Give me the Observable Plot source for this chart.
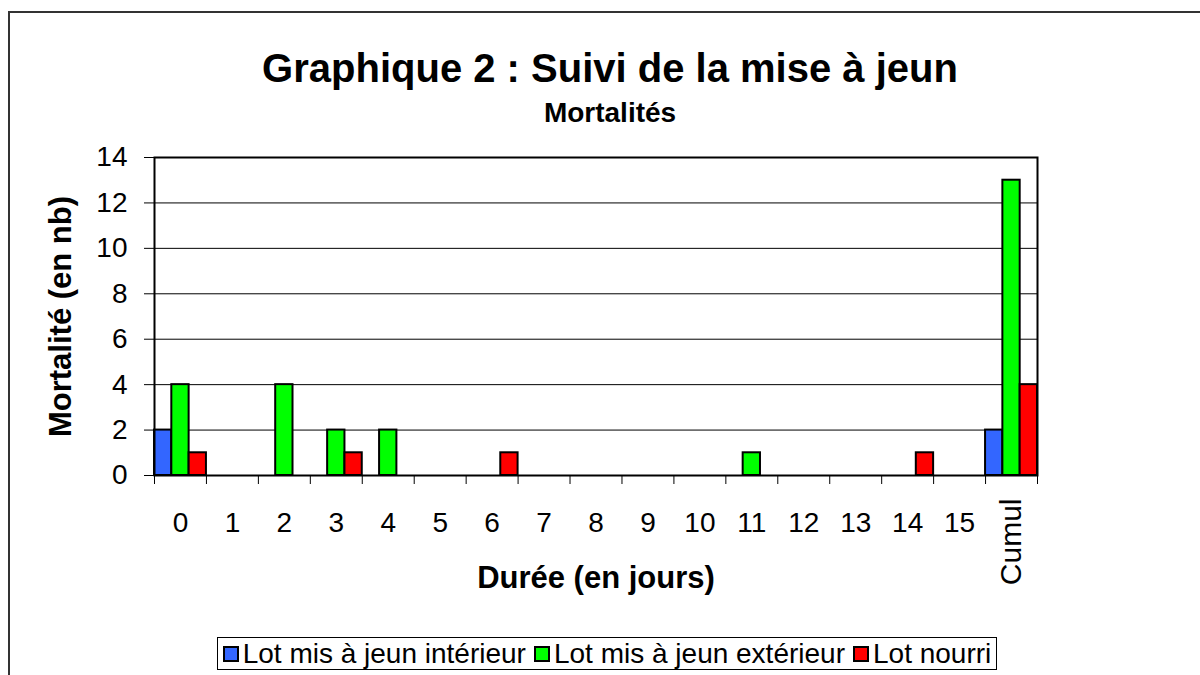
<!DOCTYPE html>
<html><head><meta charset="utf-8">
<script src="https://cdn.jsdelivr.net/npm/d3@7"></script>
<script src="https://cdn.jsdelivr.net/npm/@observablehq/plot@0.6"></script>
<style>
body{margin:0;background:#fff;font-family:"Liberation Sans",Arial,sans-serif;color:#000}
#wrap{position:relative;width:1200px;height:675px;overflow:hidden;background:#fff}
#border{position:absolute;left:8px;top:11px;width:1200px;height:700px;border-top:2px solid #333;border-left:2px solid #333;box-sizing:border-box}
#title{position:absolute;left:10px;width:1200px;top:48px;text-align:center;font-weight:bold;font-size:40px;line-height:40px;white-space:nowrap}
#subtitle{position:absolute;left:10px;width:1200px;top:99px;text-align:center;font-weight:bold;font-size:28px;line-height:28px;white-space:nowrap}
#chart{position:absolute;left:0;top:0}
#legend{position:absolute;left:217px;top:637px;width:780px;height:33px;box-sizing:border-box;border:1px solid #000;display:flex;align-items:center;justify-content:center;gap:8px;font-size:28px;line-height:31px;white-space:nowrap;background:#fff}
.item{display:flex;align-items:center;gap:4px}
.sw{width:16px;height:16px;border:2px solid #000;box-sizing:border-box}
</style>
</head><body>
<div id="wrap">
  <div id="border"></div>
  <div id="chart"></div>
  <div id="title"></div>
  <div id="subtitle"></div>
  <div id="legend"></div>
</div>
<script>
const title = "Graphique 2 : Suivi de la mise à jeun";
const subtitle = "Mortalités";
const xLabel = "Durée (en jours)";
const yLabel = "Mortalité (en nb)";
const days = ["0","1","2","3","4","5","6","7","8","9","10","11","12","13","14","15","Cumul"];
const series = ["Lot mis à jeun intérieur","Lot mis à jeun extérieur","Lot nourri"];
const colors = ["#3366FF","#00FF00","#FF0000"];
const interieur = [2,0,0,0,0,0,0,0,0,0,0,0,0,0,0,0,2];
const exterieur = [4,0,4,2,2,0,0,0,0,0,0,1,0,0,0,0,13];
const nourri    = [1,0,0,1,0,0,1,0,0,0,0,0,0,0,1,0,4];
const yTicks = [0,2,4,6,8,10,12,14];

document.getElementById("title").textContent = title;
document.getElementById("subtitle").textContent = subtitle;

const rows = [];
[interieur, exterieur, nourri].forEach((vals, k) => vals.forEach((v, i) => {
  if (v > 0) rows.push({day: i, k, series: series[k], value: v});
}));

const numericDays = days.filter(d => d !== "Cumul");

const chart = Plot.plot({
  width: 1200, height: 675,
  marginLeft: 154, marginRight: 163, marginTop: 157, marginBottom: 200,
  style: {fontFamily: "'Liberation Sans', Arial, sans-serif", fontSize: "28px", color: "#000", background: "transparent", overflow: "visible"},
  x: {type: "linear", domain: [0, days.length], label: null},
  y: {domain: [0, 14], label: null},
  color: {domain: series, range: colors},
  marks: [
    Plot.gridY({ticks: yTicks, stroke: "#000", strokeOpacity: 1, strokeWidth: 1}),
    Plot.rect(rows, {
      x1: d => d.day + d.k / 3,
      x2: d => d.day + (d.k + 1) / 3,
      y1: 0, y2: "value",
      fill: "series", stroke: "#000", strokeWidth: 2
    }),
    Plot.frame({stroke: "#000", strokeWidth: 2}),
    Plot.axisY({ticks: yTicks, tickSize: 10, tickPadding: 17, fontSize: 28, strokeWidth: 1, label: null}),
    Plot.axisX({ticks: d3.range(days.length + 1), tickSize: 9, tickFormat: () => "", strokeWidth: 1, label: null}),
    Plot.axisX({ticks: numericDays.map((d, i) => i + 0.5), tickFormat: v => days[Math.floor(v)], tickSize: 0, tickPadding: 37, fontSize: 28, label: null}),
    Plot.text(days.filter(d => d === "Cumul"), {x: d => days.indexOf(d) + 0.5, y: 0, dy: 23, rotate: -90, textAnchor: "end", lineAnchor: "middle", fontSize: 30, fill: "#000"}),
    Plot.text([yLabel], {frameAnchor: "left", textAnchor: "middle", lineAnchor: "middle", rotate: -90, dx: -93, fontSize: 31, fontWeight: "bold", fill: "#000"}),
    Plot.text([xLabel], {frameAnchor: "bottom", textAnchor: "middle", lineAnchor: "middle", dy: 103, fontSize: 31, fontWeight: "bold", fill: "#000"})
  ]
});
document.getElementById("chart").appendChild(chart);

const legend = document.getElementById("legend");
series.forEach((s, i) => {
  const item = document.createElement("div");
  item.className = "item";
  const sw = document.createElement("span");
  sw.className = "sw";
  sw.style.background = colors[i];
  const t = document.createElement("span");
  t.textContent = s;
  item.appendChild(sw); item.appendChild(t);
  legend.appendChild(item);
});
</script>
</body></html>
